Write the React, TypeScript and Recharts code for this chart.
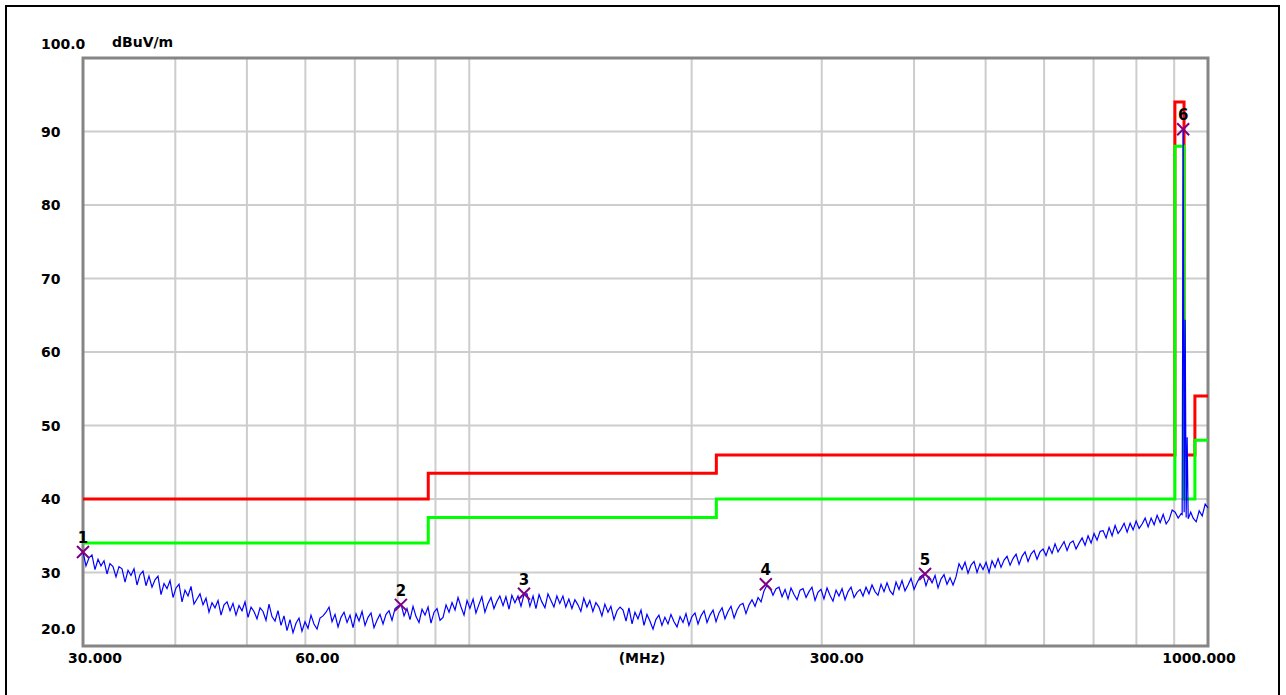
import React from "react";
import { ComposedChart, Line, Scatter, XAxis, YAxis, CartesianGrid, ReferenceArea } from "recharts";

// axis ticks
const xTicks = [30, 60, 300, 1000];
const xTickLabels = ["30.000", "60.00", "300.00", "1000.000"];
const gridFreqs = [30, 40, 50, 60, 70, 80, 90, 100, 200, 300, 400, 500, 600, 700, 800, 900, 1000];
const yTicks = [20, 30, 40, 50, 60, 70, 80, 90, 100];
const yTickLabels = ["20.0", "30", "40", "50", "60", "70", "80", "90", "100.0"];

// limit lines (MHz / dBuV/m)
const limitFreqs = [30, 88, 216, 902, 928, 960, 1000];
const redLimit = [40, 43.5, 46, 94, 46, 54, 54];
const greenLimit = [34, 37.5, 40, 88, 40, 48, 48];

// peak markers
const markerNums = ["1", "2", "3", "4", "5", "6"];
const markerFreqs = [30, 80.8, 118.6, 252, 414, 925.5];
const markerLevels = [32.8, 25.6, 27.1, 28.4, 29.8, 90.3];

// measured trace
const traceFreqs = [
  30.0, 30.28, 30.57, 30.85, 31.14, 31.44, 31.73, 32.03, 32.33, 32.63, 32.94, 33.25, 33.56, 33.88, 34.2, 34.52, 34.84, 35.17, 35.5, 35.83,
  36.17, 36.51, 36.85, 37.2, 37.55, 37.9, 38.26, 38.62, 38.98, 39.35, 39.72, 40.09, 40.47, 40.85, 41.23, 41.62, 42.01, 42.4, 42.8, 43.2,
  43.61, 44.02, 44.43, 44.85, 45.27, 45.7, 46.13, 46.56, 47.0, 47.44, 47.88, 48.33, 48.79, 49.25, 49.71, 50.18, 50.65, 51.12, 51.6, 52.09,
  52.58, 53.07, 53.57, 54.07, 54.58, 55.09, 55.61, 56.13, 56.66, 57.19, 57.73, 58.27, 58.82, 59.37, 59.93, 60.49, 61.06, 61.63, 62.22, 62.8,
  63.39, 63.99, 64.59, 65.2, 65.81, 66.43, 67.05, 67.68, 68.32, 68.96, 69.61, 70.26, 70.92, 71.59, 72.26, 72.94, 73.62, 74.31, 75.01, 75.71,
  76.43, 77.15, 77.87, 78.6, 79.34, 80.09, 80.84, 81.6, 82.36, 83.14, 83.92, 84.71, 85.5, 86.31, 87.12, 87.94, 88.76, 89.6, 90.44, 91.29,
  92.15, 93.02, 93.89, 94.77, 95.66, 96.56, 97.47, 98.38, 99.31, 100.2, 101.2, 102.1, 103.1, 104.0, 105.0, 106.0, 107.0, 108.0, 109.0, 110.0,
  111.1, 112.1, 113.2, 114.2, 115.3, 116.4, 117.5, 118.6, 119.7, 120.8, 122.0, 123.1, 124.3, 125.4, 126.6, 127.8, 129.0, 130.2, 131.4, 132.6,
  133.9, 135.1, 136.4, 137.7, 139.0, 140.3, 141.6, 142.9, 144.3, 145.6, 147.0, 148.4, 149.8, 151.2, 152.6, 154.1, 155.5, 157.0, 158.5, 160.0,
  161.5, 163.0, 164.5, 166.1, 167.6, 169.2, 170.8, 172.4, 174.0, 175.6, 177.3, 178.9, 180.6, 182.3, 184.0, 185.8, 187.5, 189.3, 191.1, 192.9,
  194.7, 196.5, 198.3, 200.2, 202.1, 204.0, 205.9, 207.9, 209.8, 211.8, 213.8, 215.8, 217.8, 219.9, 221.9, 224.0, 226.1, 228.3, 230.4, 232.6,
  234.7, 236.9, 239.2, 241.4, 243.7, 246.0, 248.3, 250.6, 253.0, 255.4, 257.7, 260.2, 262.6, 265.1, 267.6, 270.1, 272.6, 275.2, 277.8, 280.4,
  283.0, 285.7, 288.3, 291.0, 293.8, 296.5, 299.3, 302.1, 305.0, 307.8, 310.7, 313.7, 316.6, 319.6, 322.6, 325.7, 328.7, 331.8, 334.9, 338.1,
  341.2, 344.4, 347.6, 350.9, 354.2, 357.5, 360.9, 364.3, 367.7, 371.2, 374.6, 378.2, 381.7, 385.3, 388.9, 392.6, 396.3, 400.0, 403.7, 407.5,
  411.4, 415.2, 419.1, 423.1, 427.1, 431.1, 435.1, 439.2, 443.3, 447.5, 451.7, 455.9, 460.2, 464.5, 468.9, 473.3, 477.8, 482.3, 486.8, 491.4,
  496.0, 500.7, 505.4, 510.1, 514.9, 519.8, 524.6, 529.6, 534.5, 539.6, 544.6, 549.8, 554.9, 560.1, 565.4, 570.7, 576.0, 581.5, 586.9, 592.4,
  598.0, 603.6, 609.3, 615.0, 620.8, 626.6, 632.5, 638.5, 644.5, 650.5, 656.7, 662.8, 669.1, 675.4, 681.7, 688.1, 694.6, 701.1, 707.7, 714.4,
  721.1, 727.9, 734.7, 741.6, 748.6, 755.6, 762.8, 769.9, 777.2, 784.5, 791.8, 799.3, 806.8, 814.4, 822.1, 829.8, 837.6, 845.5, 853.4, 861.5,
  869.6, 877.7, 886.0, 894.3, 902.7, 911.2, 919.8, 922.6, 925.5, 928.4, 931.3, 934.2, 937.1, 940.1, 947.5, 954.9, 963.9, 972.9, 982.1, 991.3, 1000,
];
const traceLevels = [
  32.8, 30.9, 32.0, 32.4, 30.4, 31.8, 30.9, 31.6, 29.8, 31.2, 30.8, 29.4, 30.8, 30.5, 28.7, 30.3, 29.6, 30.5, 28.3, 29.7,
  30.2, 28.2, 29.5, 28.0, 29.0, 29.5, 27.0, 28.5, 27.8, 28.9, 26.6, 27.9, 28.4, 26.0, 27.6, 26.8, 28.1, 25.7, 26.4, 27.1,
  25.6, 26.5, 24.6, 25.9, 25.2, 26.2, 24.2, 25.6, 26.0, 24.8, 25.8, 24.2, 25.5, 24.8, 26.0, 23.9, 25.3, 24.7, 23.7, 25.2,
  24.7, 23.5, 25.7, 24.0, 23.4, 24.8, 22.8, 24.1, 22.1, 23.6, 21.8, 23.1, 23.8, 22.0, 23.3, 22.4, 24.2, 23.0, 22.3, 23.8,
  24.1, 24.6, 25.3, 23.3, 24.3, 22.6, 23.9, 24.6, 23.2, 24.2, 22.5, 24.4, 23.4, 24.7, 22.8, 23.9, 24.5, 22.5, 23.5, 24.3,
  23.0, 24.3, 24.8, 23.5, 25.1, 25.4, 25.7, 24.1, 25.1, 23.6, 25.4, 24.0, 23.2, 25.0, 24.2, 25.3, 23.1, 24.6, 25.1, 23.5,
  23.9, 25.6, 24.6, 25.9, 24.9, 26.6, 25.3, 24.2, 26.2, 25.1, 26.4, 24.5, 25.7, 26.7, 24.6, 25.8, 26.6, 25.1, 26.1, 26.8,
  25.5, 26.7, 25.0, 26.9, 25.9, 26.8, 25.4, 27.0, 27.1, 25.4, 26.8, 25.1, 27.0, 26.0, 25.2, 27.1, 26.2, 25.3, 26.8, 25.8,
  26.8, 25.3, 26.4, 25.1, 26.3, 25.6, 24.7, 26.5, 25.3, 26.2, 24.7, 25.9, 25.3, 24.1, 25.7, 24.6, 25.4, 23.6, 24.8, 25.3,
  24.9, 23.4, 25.2, 23.0, 24.6, 23.7, 24.9, 22.8, 24.3, 23.4, 22.3, 23.6, 24.2, 22.8, 23.9, 23.0, 24.3, 23.3, 22.6, 24.0,
  23.2, 24.4, 22.8, 24.0, 24.5, 23.0, 24.1, 24.8, 23.2, 24.2, 24.9, 23.3, 24.5, 25.2, 23.7, 24.7, 25.4, 23.8, 24.9, 25.6,
  25.8, 24.4, 25.6, 26.3, 25.4, 26.6, 26.0, 27.5, 28.3, 27.9, 26.9, 27.8, 28.0, 26.7, 27.7, 26.4, 27.9, 27.0, 26.3, 27.6,
  27.8, 26.6, 27.4, 28.0, 26.2, 27.3, 27.7, 26.4, 27.9, 26.9, 26.1, 27.6, 26.8, 27.8, 26.3, 27.4, 28.0, 26.6, 27.3, 27.7,
  26.8, 28.0, 27.1, 28.3, 27.4, 26.9, 28.4, 27.4, 28.6, 27.5, 27.0, 28.7, 27.7, 28.9, 27.5, 28.3, 29.2, 27.7, 28.6, 29.4,
  29.7, 28.2, 29.4, 28.6, 29.6, 27.9, 29.1, 29.7, 28.4, 29.3, 28.3, 29.4, 31.2, 30.4, 31.4, 29.9, 31.0, 31.5, 30.0, 31.2,
  30.4, 31.4, 30.0, 31.6, 30.7, 31.9, 30.7, 31.7, 32.2, 31.0, 31.9, 32.5, 31.1, 32.2, 32.8, 31.5, 32.5, 33.0, 31.8, 32.8,
  33.2, 32.3, 33.5, 32.6, 33.9, 32.8, 33.5, 34.2, 33.0, 34.0, 34.3, 33.2, 34.0, 34.7, 33.7, 35.0, 34.0, 35.3, 34.4, 35.6,
  35.7, 34.7, 36.1, 35.0, 36.4, 35.3, 35.9, 36.7, 35.5, 36.7, 35.8, 37.0, 36.0, 36.6, 37.4, 36.2, 37.4, 36.5, 37.8, 36.8,
  37.9, 36.6, 37.2, 38.5, 38.2, 37.4, 38.0, 37.9, 90.3, 38.2, 64.4, 37.5, 48.4, 37.3, 38.2, 37.4, 36.9, 38.4, 37.7, 39.3, 38.8,
];

const traceData = traceFreqs.map((f, i) => ({ f, v: traceLevels[i] }));
const redData = limitFreqs.map((f, i) => ({ f, v: redLimit[i] }));
const greenData = limitFreqs.map((f, i) => ({ f, v: greenLimit[i] }));
const markerData = markerFreqs.map((f, i) => ({ f, v: markerLevels[i], n: markerNums[i] }));

const FONT = "'DejaVu Sans', Verdana, sans-serif";
const xLabelShift: Record<number, number> = { 30: 12, 60: 12, 300: 15, 1000: -9 };

// grid uses every decade line; only a few carry labels
const XTick = (props: any) => {
  const { x, y, payload } = props;
  const i = xTicks.indexOf(payload.value);
  if (i < 0) return <g />;
  return (
    <text x={x + (xLabelShift[payload.value] || 0)} y={y + 15} textAnchor="middle" fontFamily={FONT} fontWeight="bold" fontSize={14} fill="#000">
      {xTickLabels[i]}
    </text>
  );
};

const YTick = (props: any) => {
  const { x, y, payload } = props;
  const i = yTicks.indexOf(payload.value);
  let dy = 5;
  if (payload.value === 100) dy = -9;
  if (payload.value === 20) dy = -12;
  return (
    <text x={x - 40} y={y + dy} textAnchor="start" fontFamily={FONT} fontWeight="bold" fontSize={14} fill="#000">
      {yTickLabels[i]}
    </text>
  );
};

const MarkerShape = (props: any) => {
  const { cx, cy, payload } = props;
  const s = 6;
  return (
    <g>
      <path d={`M${cx - s},${cy - s}L${cx + s},${cy + s}M${cx + s},${cy - s}L${cx - s},${cy + s}`} stroke="#800080" strokeWidth={2} />
      <text x={cx} y={cy - 9} textAnchor="middle" fontFamily={FONT} fontWeight="bold" fontSize={15} fill="#000">
        {payload.n}
      </text>
    </g>
  );
};

export default function App() {
  return (
    <div style={{ position: "absolute", left: 0, top: 0, width: 1286, height: 695, background: "#fff", overflow: "hidden" }}>
      <div style={{ position: "absolute", left: 5, top: 5, width: 1275, height: 720, border: "2px solid #000", boxSizing: "border-box" }} />
      <div style={{ position: "absolute", left: 112, top: 34, fontFamily: FONT, fontWeight: "bold", fontSize: 14, lineHeight: "16px" }}>dBuV/m</div>
      <div style={{ position: "absolute", left: 642, top: 650, transform: "translateX(-50%)", fontFamily: FONT, fontWeight: "bold", fontSize: 14, lineHeight: "16px" }}>(MHz)</div>
      <div style={{ position: "absolute", left: 0, top: 0 }}>
        <ComposedChart width={1286} height={695} margin={{ top: 58, right: 78, bottom: 19, left: 38 }}>
          <XAxis
            dataKey="f"
            type="number"
            scale="log"
            domain={[30, 1000]}
            ticks={gridFreqs}
            height={30}
            axisLine={false}
            tickLine={false}
            tickSize={0}
            tick={<XTick />}
            interval={0}
          />
          <YAxis
            type="number"
            domain={[20, 100]}
            ticks={yTicks}
            width={45}
            axisLine={false}
            tickLine={false}
            tickSize={0}
            tick={<YTick />}
            interval={0}
          />
          <CartesianGrid stroke="#cdcdcd" strokeWidth={2} />
          <ReferenceArea x1={30} x2={1000} y1={20} y2={100} fill="none" stroke="#858585" strokeWidth={3} ifOverflow="visible" />
          <Line data={redData} dataKey="v" type="stepAfter" stroke="#ff0000" strokeWidth={3} dot={false} isAnimationActive={false} />
          <Line data={greenData} dataKey="v" type="stepAfter" stroke="#00ff00" strokeWidth={3} dot={false} isAnimationActive={false} />
          <Line data={traceData} dataKey="v" type="linear" stroke="#0000ff" strokeWidth={1.2} dot={false} isAnimationActive={false} />
          <Scatter data={markerData} dataKey="v" shape={<MarkerShape />} isAnimationActive={false} />
        </ComposedChart>
      </div>
    </div>
  );
}
